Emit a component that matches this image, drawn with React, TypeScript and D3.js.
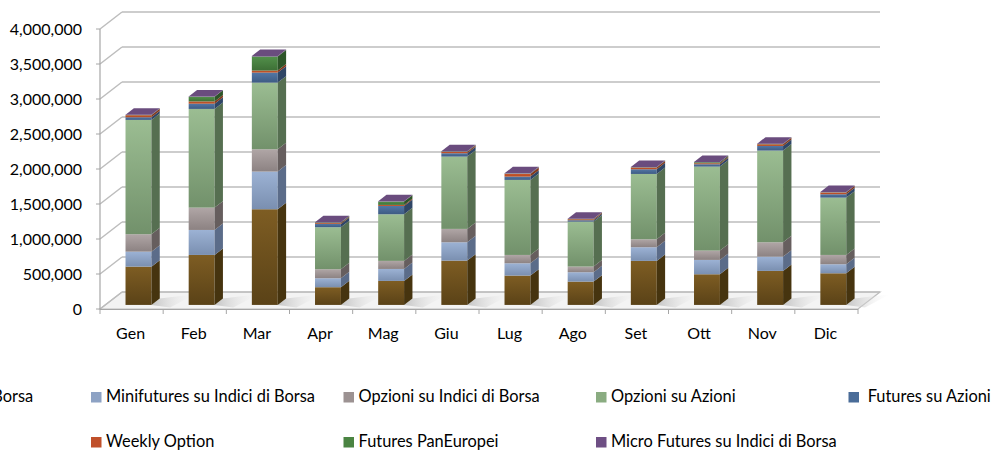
import React from "react";
import * as d3 from "d3";

const months = ["Gen", "Feb", "Mar", "Apr", "Mag", "Giu", "Lug", "Ago", "Set", "Ott", "Nov", "Dic"];
const seriesNames = [
  "Futures su Indici di Borsa",
  "Minifutures su Indici di Borsa",
  "Opzioni su Indici di Borsa",
  "Opzioni su Azioni",
  " Futures su Azioni",
  "Weekly Option",
  "Futures PanEuropei",
  "Micro Futures su Indici di Borsa",
];
const futuresIndici = [547000, 714000, 1367000, 253000, 343000, 633000, 419000, 333000, 629000, 438000, 486000, 452000];
const minifutures = [214000, 357000, 538000, 128000, 171000, 262000, 176000, 134000, 195000, 205000, 204000, 129000];
const opzioniIndici = [249000, 319000, 319000, 129000, 115000, 191000, 119000, 81000, 114000, 133000, 205000, 133000];
const opzioniAzioni = [1633000, 1410000, 952000, 600000, 666000, 1033000, 1072000, 642000, 933000, 1200000, 1310000, 819000];
const futuresAzioni = [38000, 75000, 143000, 47000, 119000, 48000, 47000, 20000, 67000, 34000, 66000, 48000];
const weeklyOption = [29000, 32000, 29000, 12000, 15000, 19000, 38000, 14000, 24000, 14000, 24000, 24000];
const futuresPanEuropei = [3000, 66000, 200000, 8000, 47000, 5000, 4000, 3000, 4000, 14000, 4000, 3000];
const microFutures = [4000, 5000, 8000, 5000, 5000, 5000, 5000, 4000, 5000, 5000, 5000, 4000];
const yTicks = [0, 500000, 1000000, 1500000, 2000000, 2500000, 3000000, 3500000, 4000000];

const seriesValues = [futuresIndici, minifutures, opzioniIndici, opzioniAzioni, futuresAzioni, weeklyOption, futuresPanEuropei, microFutures];

const palette = [
  { top: "#7e5d23", bot: "#5a4217", side: "#46340f", leg: "#6f521d" },
  { top: "#9cb2d4", bot: "#7a8fb0", side: "#5b6c89", leg: "#8da2c4" },
  { top: "#b0a6a6", bot: "#8c8282", side: "#665e5e", leg: "#9c9292" },
  { top: "#9bbd92", bot: "#72916b", side: "#566f51", leg: "#8aac81" },
  { top: "#5277a6", bot: "#3d5b83", side: "#2f4666", leg: "#4a6c98" },
  { top: "#c9572c", bot: "#b04a22", side: "#84361a", leg: "#c0502a" },
  { top: "#52904a", bot: "#3d6f36", side: "#2d5428", leg: "#4a8442" },
  { top: "#74548a", bot: "#664a7a", side: "#4c375b", leg: "#6e4f84" },
];

const W = 995;
const H = 450;
const x0 = 100;
const x1 = 858;
const baseY = 309;
const DX = 22;
const DY = -17;
const d0 = 0.24;
const d1 = 0.62;

export default function App() {
  const x = d3.scaleBand<string>().domain(months).range([x0, x1]).padding(0);
  const y = d3.scaleLinear().domain([0, 4000000]).range([0, 280]);
  const stack = d3.stack<number>()
    .keys(seriesNames.map((_, i) => String(i)))
    .value((idx, key) => seriesValues[+key][idx]);
  const stacked = stack(months.map((_, i) => i));

  const P = (px: number, v: number, d: number): [number, number] => [px + d * DX, baseY - y(v) + d * DY];
  const pts = (arr: [number, number][]) => arr.map((p) => p.join(",")).join(" ");

  const bw = x.bandwidth() * 0.41;
  const floor = pts([P(x0, 0, 0), P(x1, 0, 0), P(x1, 0, 1), P(x0, 0, 1)]);

  return (
    <svg width={W} height={H} style={{ position: "absolute", left: 0, top: 0, background: "#fff" }} fontFamily="Lato, 'Liberation Sans', sans-serif">
      <defs>
        {palette.map((c, i) => (
          <linearGradient key={i} id={`g${i}`} x1="0" y1="0" x2="0" y2="1">
            <stop offset="0" stopColor={c.top} />
            <stop offset="1" stopColor={c.bot} />
          </linearGradient>
        ))}
        <linearGradient id="shadow" x1="0" y1="0" x2="1" y2="0">
          <stop offset="0" stopColor="#b8b8b8" />
          <stop offset="1" stopColor="#f4f4f4" stopOpacity="0" />
        </linearGradient>
      </defs>
      <polygon points={floor} fill="#f3f3f3" stroke="#bdbdbd" strokeWidth={1.2} />
      {yTicks.map((t) => {
        const [bx, by] = P(x0, t, 1);
        const [ex, ey] = P(x1, t, 1);
        const [fx, fy] = P(x0, t, 0);
        return (
          <g key={t} stroke="#bdbdbd" strokeWidth={1.5} fill="none">
            <line x1={bx} y1={by} x2={ex} y2={ey} />
            <line x1={fx} y1={fy} x2={bx} y2={by} />
          </g>
        );
      })}
      {months.map((m) => {
        const c = (x(m) as number) + x.bandwidth() / 2 + 1.6;
        const r = c + bw / 2;
        return (
          <polygon
            key={m}
            points={pts([P(r, 0, d0), P(r + 22, 0, d0 - 0.15), P(r + 30, 0, d1 + 0.25), P(r, 0, d1)])}
            fill="url(#shadow)"
            opacity={0.8}
          />
        );
      })}
      <line x1={x0} y1={baseY} x2={x0} y2={baseY - y(4000000)} stroke="#a6a6a6" strokeWidth={1.2} />
      <line x1={x0} y1={baseY + 0.5} x2={x1} y2={baseY + 0.5} stroke="#a6a6a6" strokeWidth={1.2} />
      {yTicks.map((t) => (
        <g key={t}>
          <line x1={x0 - 4} x2={x0} y1={baseY - y(t)} y2={baseY - y(t)} stroke="#a6a6a6" />
          <text x={82} y={baseY - y(t)} dy="0.36em" textAnchor="end" fontSize={16} fill="#000">
            {d3.format(",")(t)}
          </text>
        </g>
      ))}
      {d3.range(months.length + 1).map((i) => {
        const px = x0 + i * x.step();
        return <line key={i} x1={px} x2={px} y1={baseY} y2={baseY + 5} stroke="#a6a6a6" />;
      })}
      {months.map((m) => (
        <text key={m} x={(x(m) as number) + x.bandwidth() / 2 - 1} y={339} textAnchor="middle" fontSize={16} fill="#000">
          {m}
        </text>
      ))}
      {months.map((m, mi) => {
        const c = (x(m) as number) + x.bandwidth() / 2 + 1.6;
        const l = c - bw / 2;
        const r = c + bw / 2;
        const segs = stacked.map((s, si) => ({ si, lo: s[mi][0], hi: s[mi][1] }));
        const topSeg = segs[segs.length - 1];
        return (
          <g key={m}>
            {segs.map(({ si, lo, hi }) => {
              const [fl, ft] = P(l, hi, d0);
              const [fr, fb] = P(r, lo, d0);
              return (
                <g key={si}>
                  <rect x={fl} y={ft} width={fr - fl} height={fb - ft} fill={`url(#g${si})`} />
                  <polygon points={pts([P(r, lo, d0), P(r, hi, d0), P(r, hi, d1), P(r, lo, d1)])} fill={palette[si].side} />
                </g>
              );
            })}
            <polygon
              points={pts([P(l, topSeg.hi, d0), P(r, topSeg.hi, d0), P(r, topSeg.hi, d1), P(l, topSeg.hi, d1)])}
              fill="#6a4c7e"
            />
          </g>
        );
      })}
      {seriesNames.map((name, i) => {
        const row = i < 5 ? 0 : 1;
        const col = i < 5 ? i : i - 4;
        const sx = -161.5 + col * 252.5;
        const sy = row === 0 ? 392 : 437;
        return (
          <g key={name}>
            <rect x={sx} y={sy} width={10.5} height={10.5} fill={palette[i].leg} />
            <text x={sx + 15} y={sy + 10} fontSize={16.4} fill="#000" style={{ whiteSpace: "pre" }}>
              {name}
            </text>
          </g>
        );
      })}
    </svg>
  );
}
